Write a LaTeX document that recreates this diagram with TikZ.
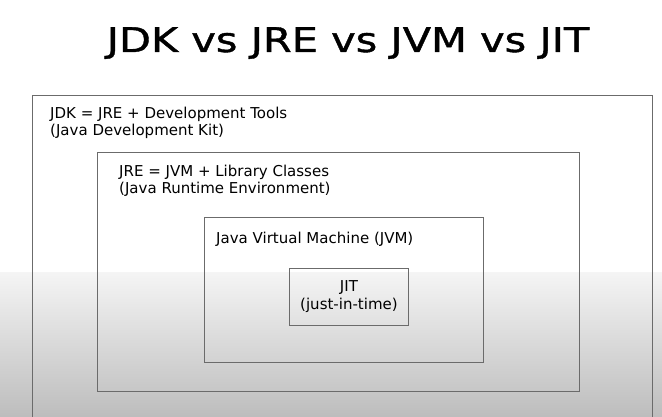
\documentclass[tikz,border=0pt]{standalone}
\usepackage{fontspec}
\setmainfont{DejaVu Sans}
\newfontfamily\headfont[FakeStretch=1.22, FakeBold=1.2]{DejaVu Sans}
\usetikzlibrary{positioning}

\begin{document}
\begin{tikzpicture}[x=1pt, y=-1pt,
    box/.style={draw=black!58, line width=0.9pt, rectangle, inner sep=0pt, anchor=north west},
    note/.style={font=\fontsize{15}{17}\selectfont, align=left, inner sep=0pt},
    heading/.style={font=\headfont\fontsize{34}{40}\selectfont, inner sep=0pt}]
% Page and background
\useasboundingbox (0,0) rectangle (662,417);
\clip (0,0) rectangle (662,417);
\fill[white] (0,0) rectangle (662,417);
\shade[top color=black!4, bottom color=black!26] (0,272) rectangle (662,417);

% Title
\node[heading] (title) at (348,43) {JDK vs JRE vs JVM vs JIT};

% Nested boxes
\node[box, minimum width=620, minimum height=345] (jdk) at (32,95) {};
\node[box, minimum width=482, minimum height=239] (jre) at (97,152) {};
\node[box, minimum width=279, minimum height=145] (jvm) at (204,217) {};
\node[box, minimum width=119, minimum height=57, align=center,
      font=\fontsize{15}{18}\selectfont] (jit) at (289,268) {JIT\\(just-in-time)};

% Box texts
\node[note, below right=12pt and 18pt of jdk.north west] (jdktext)
    {JDK = JRE + Development Tools\\(Java Development Kit)};
\node[note, below right=13pt and 22pt of jre.north west] (jretext)
    {JRE = JVM + Library Classes\\(Java Runtime Environment)};
\node[note, below right=15pt and 12pt of jvm.north west] (jvmtext)
    {Java Virtual Machine (JVM)};
\end{tikzpicture}
\end{document}
